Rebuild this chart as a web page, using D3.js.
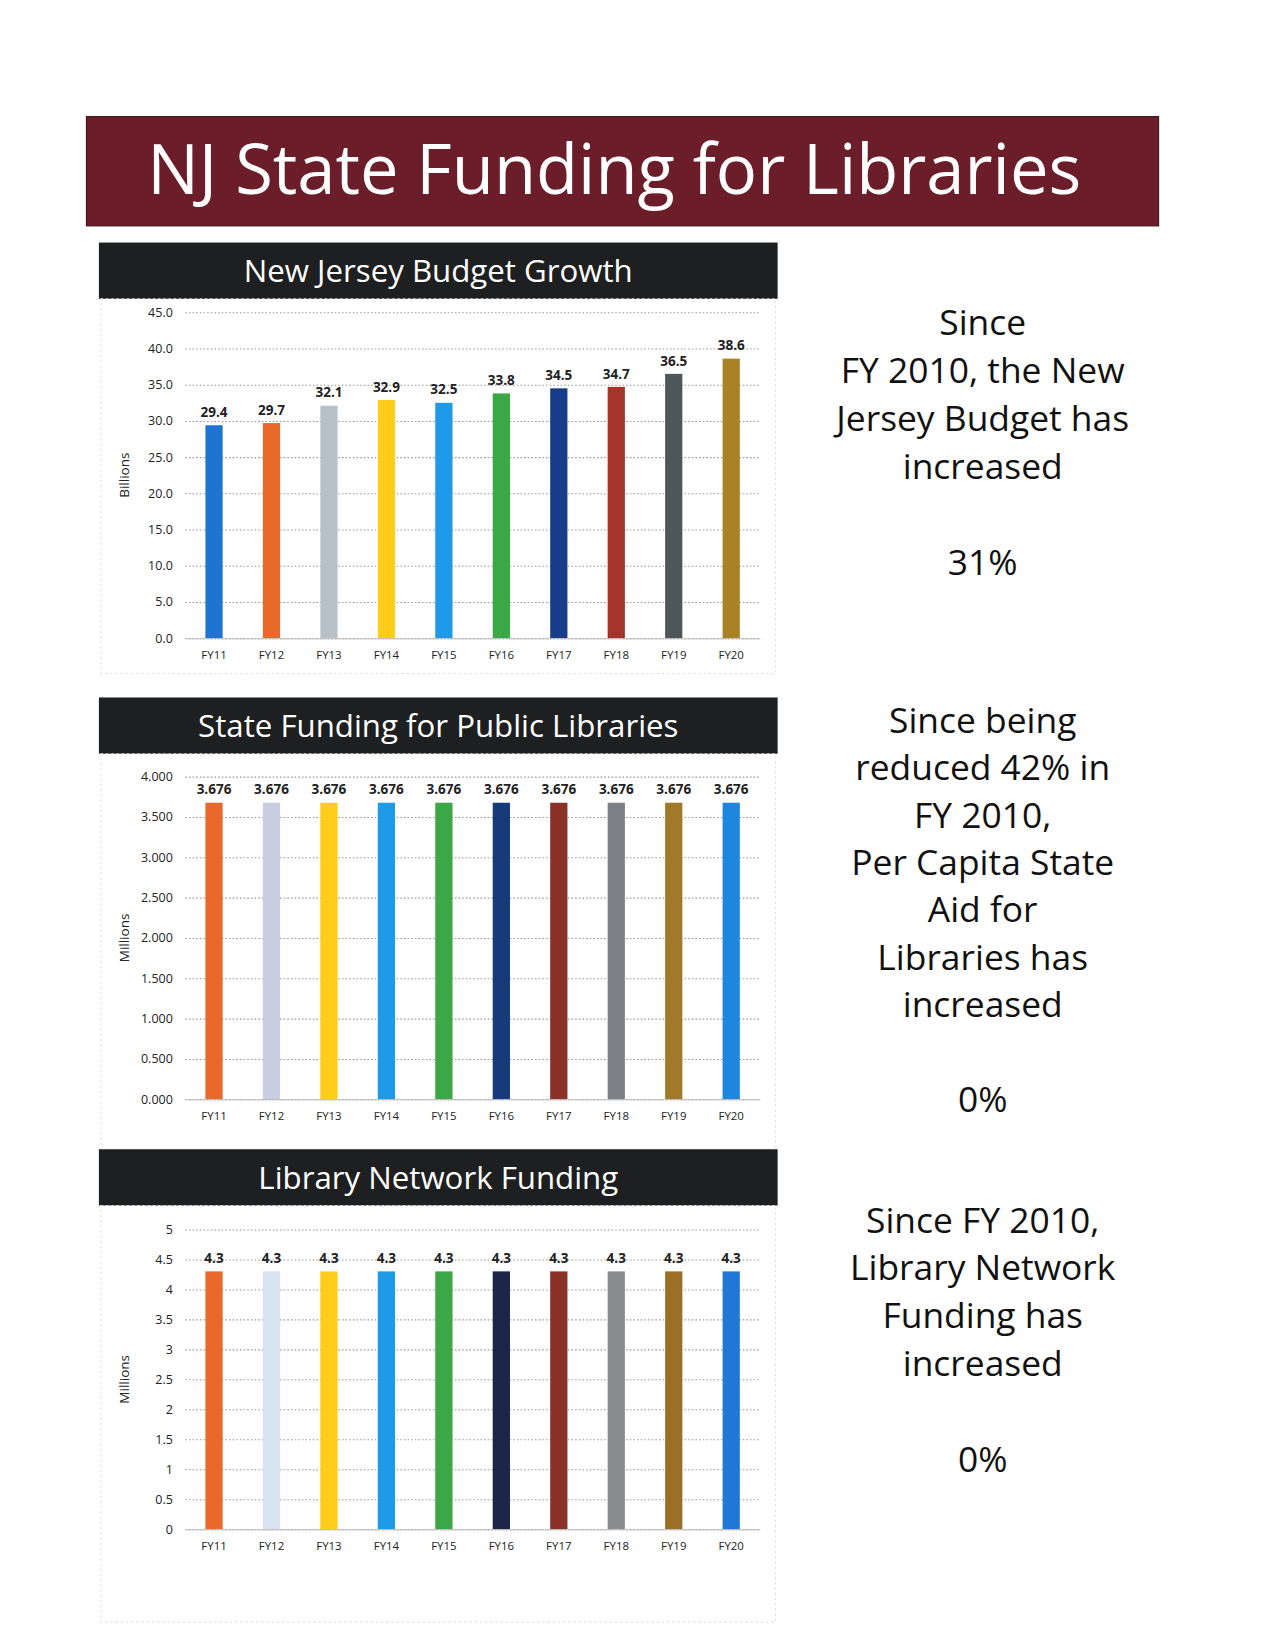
<!DOCTYPE html>
<html><head><meta charset="utf-8">
<script src="https://cdn.jsdelivr.net/npm/d3@7"></script>
<style>body{margin:0;background:#fff}</style>
</head><body>
<script>
// data
const years = ["FY11","FY12","FY13","FY14","FY15","FY16","FY17","FY18","FY19","FY20"];
const budget = [29.4, 29.7, 32.1, 32.9, 32.5, 33.8, 34.5, 34.7, 36.5, 38.6];
const libraryAid = [3.676, 3.676, 3.676, 3.676, 3.676, 3.676, 3.676, 3.676, 3.676, 3.676];
const network = [4.3, 4.3, 4.3, 4.3, 4.3, 4.3, 4.3, 4.3, 4.3, 4.3];
const budgetColors = ["#1f73d1","#e8692a","#b8c0c8","#ffcc1a","#1f9ae8","#3aa845","#173c8a","#a5352a","#4f5658","#a88224"];
const aidColors = ["#e8692a","#c8cde0","#ffcc1a","#1f9ae8","#3aa845","#173a7a","#8a3128","#7d8084","#a07a2a","#1f86e0"];
const netColors = ["#e8692a","#d8e2f0","#ffcc1a","#1f9ae8","#3aa845","#1a2548","#8a3128","#8a8c90","#9a7028","#1f78d8"];

const font = "'Open Sans', 'Noto Sans', sans-serif";
const root = d3.select("body").append("svg").attr("width", 1275).attr("height", 1650);
// layout was measured on a 0.96 scaled copy of the page
const svg = root.append("g").attr("transform", "scale(1.041)");

// main title
svg.append("rect").attr("x", 83).attr("y", 112).attr("width", 1030).attr("height", 105)
    .attr("fill", "#6b1e29").attr("stroke", "#3a0d12");
svg.append("text").attr("x", 590).attr("y", 186).attr("text-anchor", "middle")
    .attr("font-family", font).attr("font-size", 66).attr("fill", "#fff")
    .text("NJ State Funding for Libraries");

function chart(opts) {
    const g = svg.append("g");
    g.append("rect").attr("x", 95).attr("y", opts.top).attr("width", 652).attr("height", 54).attr("fill", "#1e1f20");
    g.append("text").attr("x", 421).attr("y", opts.top + 38).attr("text-anchor", "middle")
        .attr("font-family", font).attr("font-size", 30).attr("fill", "#fff").text(opts.title);
    g.append("rect").attr("x", 97).attr("y", opts.top + 54).attr("width", 648).attr("height", opts.boxH)
        .attr("fill", "none").attr("stroke", "#ddd").attr("stroke-dasharray", "2,3");

    const x = d3.scaleBand().domain(years).range([178, 730]).paddingInner(0.7).paddingOuter(0.35);
    const y = d3.scaleLinear().domain([0, opts.max]).range([opts.y0, opts.y1]);

    const ax = g.append("g").attr("transform", "translate(178,0)")
        .call(d3.axisLeft(y).tickValues(opts.ticks).tickFormat(opts.fmt).tickSize(-552).tickPadding(12));
    ax.select(".domain").remove();
    ax.selectAll(".tick line").attr("stroke", "#999").attr("stroke-dasharray", "1.5,2");
    ax.selectAll(".tick text").attr("font-family", font).attr("font-size", 12).attr("fill", "#222");

    g.selectAll(".bar").data(opts.values).enter().append("rect")
        .attr("x", (d, i) => x(years[i])).attr("width", x.bandwidth())
        .attr("y", d => y(d)).attr("height", d => y(0) - y(d))
        .attr("fill", (d, i) => opts.colors[i]);

    g.selectAll(".lbl").data(opts.values).enter().append("text")
        .attr("x", (d, i) => x(years[i]) + x.bandwidth() / 2).attr("y", d => y(d) - 8)
        .attr("text-anchor", "middle").attr("font-family", font).attr("font-size", 13)
        .attr("font-weight", "bold").attr("fill", "#222").text(opts.label);

    const xa = g.append("g").attr("transform", "translate(0," + opts.y0 + ")")
        .call(d3.axisBottom(x).tickSize(0).tickPadding(12));
    xa.select(".domain").attr("stroke", "#bbb");
    xa.selectAll(".tick text").attr("font-family", font).attr("font-size", 11).attr("fill", "#222");

    g.append("text").attr("transform", "translate(124," + ((opts.y0 + opts.y1) / 2) + ") rotate(-90)")
        .attr("text-anchor", "middle").attr("font-family", font).attr("font-size", 13).attr("fill", "#222")
        .text(opts.unit);
}

chart({ title: "New Jersey Budget Growth", top: 233, boxH: 360, y0: 613, y1: 300, max: 45,
    ticks: d3.range(0, 46, 5), fmt: d3.format(".1f"), values: budget, colors: budgetColors,
    label: d3.format(".1f"), unit: "Billions" });
chart({ title: "State Funding for Public Libraries", top: 670, boxH: 420, y0: 1056, y1: 746, max: 4,
    ticks: d3.range(0, 4.01, 0.5), fmt: d3.format(".3f"), values: libraryAid, colors: aidColors,
    label: d3.format(".3f"), unit: "Millions" });
chart({ title: "Library Network Funding", top: 1104, boxH: 400, y0: 1469, y1: 1181, max: 5,
    ticks: d3.range(0, 5.01, 0.5), fmt: d => d, values: network, colors: netColors,
    label: d3.format(".1f"), unit: "Millions" });

// side notes
function note(lines, y0, step) {
    svg.append("text").attr("text-anchor", "middle").attr("font-family", font).attr("font-size", 34).attr("fill", "#111")
        .selectAll("tspan").data(lines).enter().append("tspan")
        .attr("x", 944).attr("y", (d, i) => y0 + i * step).text(d => d);
}
note(["Since", "FY 2010, the New", "Jersey Budget has", "increased", "", "31%"], 322, 46);
note(["Since being", "reduced 42% in", "FY 2010,", "Per Capita State", "Aid for", "Libraries has", "increased", "", "0%"], 704, 45.5);
note(["Since FY 2010,", "Library Network", "Funding has", "increased", "", "0%"], 1184, 46);
</script>
</body></html>
